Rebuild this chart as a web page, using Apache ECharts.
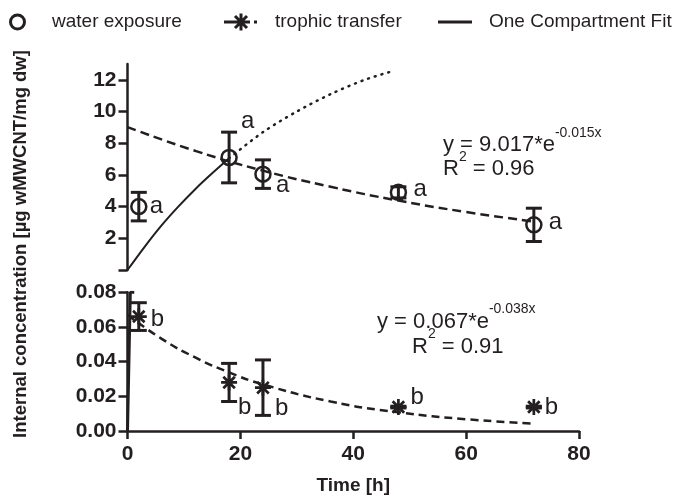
<!DOCTYPE html>
<html>
<head>
<meta charset="utf-8">
<script src="https://cdn.jsdelivr.net/npm/echarts@6.0.0/dist/echarts.min.js"></script>
<style>
  html, body { margin: 0; padding: 0; background: #fff; }
  #chart { width: 677px; height: 496px; }
</style>
</head>
<body>
<div id="chart"></div>
<script>
var myChart = echarts.init(document.getElementById('chart'));

// measured points (mean and error)
var waterTime = [2, 18, 24, 48, 72];
var waterMean = [4.0, 7.1, 6.05, 4.9, 2.85];
var waterErr = [0.9, 1.6, 0.9, 0.35, 1.05];
var waterLetters = ['a', 'a', 'a', 'a', 'a'];

var trophicTime = [2, 18, 24, 48, 72];
var trophicMean = [0.066, 0.028, 0.025, 0.0138, 0.0138];
var trophicErr = [0.008, 0.011, 0.016, 0.0005, 0.0005];
var trophicLetters = ['b', 'b', 'b', 'b', 'b'];

// fitted curves
var uptakeTime = [0, 3, 6, 9, 12, 15, 18];
var uptakeConc = [0, 1.45, 2.8, 4.0, 5.1, 6.1, 7.05];
var uptakeExtTime = [18, 24, 30, 36, 42, 47];
var uptakeExtConc = [7.05, 8.7, 10.0, 11.1, 12.0, 12.55];
var waterFitTime = [0, 12, 24, 36, 48, 60, 72];
var waterFitConc = [9.02, 7.52, 6.27, 5.25, 4.38, 3.66, 3.06];

var trophicUptakeTime = [0, 0.5, 1.2];
var trophicUptakeConc = [0, 0.08, 0.08];
var trophicFitTime = [0, 6, 12, 18, 24, 36, 48, 60, 72];
var trophicFitConc = [0.067, 0.0533, 0.0424, 0.0338, 0.0269, 0.0170, 0.0108, 0.0068, 0.0043];

// axis ticks
var timeTicks = [0, 20, 40, 60, 80];
var upperTicks = [2, 4, 6, 8, 10, 12];
var lowerTicks = [0, 0.02, 0.04, 0.06, 0.08];

// label placement next to each point (layout only)
var waterLabelOffset = [[11, 0], [12, -36], [13, 11], [15, -3], [15, -2]];
var trophicLabelOffset = [[12, 3], [9, 25], [12, 21], [12, -10], [11, 0]];

var ink = '#231f20';
var font = 'Liberation Sans, Arial, sans-serif';
var starPath = 'path://M0 8.3H20V11.7H0Z M8.3 0H11.7V20H8.3Z M1.6 4.0L4.0 1.6L18.4 16.0L16.0 18.4Z M16.0 1.6L18.4 4.0L4.0 18.4L1.6 16.0Z';
var starLegendPath = 'path://M0 7H26V10H0Z M15.5 0H18.5V17H15.5Z M9.94 3.56L12.06 1.44L24.06 13.44L21.94 15.56Z M21.94 1.44L24.06 3.56L12.06 15.56L9.94 13.44Z M30 7H33V10H30Z';

function pairs(xs, ys) {
    return xs.map(function (x, i) { return [x, ys[i]]; });
}

function errRows(xs, m, e) {
    return xs.map(function (x, i) { return [x, m[i] - e[i], m[i] + e[i]]; });
}

function pointItems(xs, ys, offsets) {
    return xs.map(function (x, i) {
        return { value: [x, ys[i]], label: { offset: offsets[i] } };
    });
}

function errorBar(half) {
    return function (params, api) {
        var t = api.value(0);
        var lo = api.coord([t, api.value(1)]);
        var hi = api.coord([t, api.value(2)]);
        var st = { stroke: ink, lineWidth: 3 };
        return {
            type: 'group',
            children: [
                { type: 'line', shape: { x1: lo[0], y1: lo[1], x2: hi[0], y2: hi[1] }, style: st },
                { type: 'line', shape: { x1: lo[0] - half, y1: lo[1], x2: lo[0] + half, y2: lo[1] }, style: st },
                { type: 'line', shape: { x1: hi[0] - half, y1: hi[1], x2: hi[0] + half, y2: hi[1] }, style: st }
            ]
        };
    };
}

var axisLine = { show: true, lineStyle: { color: ink, width: 2.5 } };
var tickLabel = { color: ink, fontSize: 21, fontWeight: 'bold', fontFamily: font };

function letterLabel(letters) {
    return {
        show: true,
        position: 'inside',
        align: 'left',
        verticalAlign: 'middle',
        color: ink,
        fontSize: 24,
        fontFamily: font,
        formatter: function (p) { return letters[p.dataIndex]; }
    };
}

var eqRich = {
    m: { fontSize: 22, lineHeight: 30, fontFamily: font, fill: ink, verticalAlign: 'bottom' },
    s: { fontSize: 14, lineHeight: 14, fontFamily: font, fill: ink, verticalAlign: 'top' },
    q: { fontSize: 14, lineHeight: 20, fontFamily: font, fill: ink, verticalAlign: 'top' }
};

myChart.setOption({
    animation: false,
    backgroundColor: '#fff',
    grid: [
        { left: 127.5, width: 451.5, top: 64, height: 206 },
        { left: 127.5, width: 451.5, top: 292.3, height: 139.4 }
    ],
    legend: [
        {
            left: 9, top: 12, padding: 0, selectedMode: false,
            itemWidth: 59, itemHeight: 14,
            textStyle: { color: ink, fontSize: 19, fontFamily: font, lineHeight: 20 },
            data: [{ name: 'water exposure', icon: 'circle',
                itemStyle: { color: 'rgba(0,0,0,0)', borderColor: ink, borderWidth: 3 } }]
        },
        {
            left: 224, top: 12, padding: 0, selectedMode: false,
            itemWidth: 33, itemHeight: 17,
            textStyle: { color: ink, fontSize: 19, fontFamily: font, lineHeight: 20, padding: [0, 0, 0, 13] },
            data: [{ name: 'trophic transfer', icon: starLegendPath, itemStyle: { color: ink, borderWidth: 0 } }]
        },
        {
            left: 438, top: 12, padding: 0, selectedMode: false,
            itemWidth: 34, itemHeight: 3,
            textStyle: { color: ink, fontSize: 19, fontFamily: font, lineHeight: 20, padding: [0, 0, 0, 12] },
            data: [{ name: 'One Compartment Fit', icon: 'path://M0 0H34V3H0Z', itemStyle: { color: ink, borderWidth: 0 } }]
        }
    ],
    xAxis: [
        { gridIndex: 0, type: 'value', min: 0, max: 80, show: false },
        {
            gridIndex: 1, type: 'value', min: 0, max: 80, interval: 20,
            axisLine: axisLine,
            axisTick: { show: true, length: 8, lineStyle: { color: ink, width: 2.5 } },
            axisLabel: Object.assign({ margin: 13 }, tickLabel),
            splitLine: { show: false },
            name: 'Time [h]', nameLocation: 'middle', nameGap: 45,
            nameTextStyle: { color: ink, fontSize: 19, fontWeight: 'bold', fontFamily: font }
        }
    ],
    yAxis: [
        {
            gridIndex: 0, type: 'value', min: 0, max: 13, interval: 2,
            axisLine: axisLine,
            axisTick: { show: true, length: 9, lineStyle: { color: ink, width: 2.5 }, customValues: [0].concat(upperTicks) },
            axisLabel: Object.assign({ margin: 11, customValues: upperTicks,
                formatter: function (v) { return (v === 0 || v === 13) ? '' : v; } }, tickLabel),
            splitLine: { show: false }
        },
        {
            gridIndex: 1, type: 'value', min: 0, max: 0.08, interval: 0.02,
            axisLine: axisLine,
            axisTick: { show: true, length: 9, lineStyle: { color: ink, width: 2.5 } },
            axisLabel: Object.assign({ margin: 11, formatter: function (v) { return v.toFixed(2); } }, tickLabel),
            splitLine: { show: false }
        }
    ],
    graphic: [
        {
            type: 'text', x: 21, y: 244, rotation: Math.PI / 2,
            style: { text: 'Internal concentration [µg wMWCNT/mg dw]', fill: ink, fontSize: 18.5, fontWeight: 'bold',
                fontFamily: font, align: 'center', verticalAlign: 'middle' }
        },
        { type: 'text', left: 443, top: 126, style: { text: '{m|y = 9.017*e}{s|-0.015x}', rich: eqRich } },
        { type: 'text', left: 443, top: 150, style: { text: '{m|R}{q|2}{m| = 0.96}', rich: eqRich } },
        { type: 'text', left: 377, top: 302.5, style: { text: '{m|y = 0.067*e}{s|-0.038x}', rich: eqRich } },
        { type: 'text', left: 412, top: 327.5, style: { text: '{m|R}{q|2}{m| = 0.91}', rich: eqRich } }
    ],
    series: [
        {
            name: 'water fit', type: 'line', xAxisIndex: 0, yAxisIndex: 0,
            data: pairs(waterFitTime, waterFitConc), smooth: true, showSymbol: false, silent: true,
            lineStyle: { color: ink, width: 2.5, type: [9, 5] }
        },
        {
            name: 'One Compartment Fit', type: 'line', xAxisIndex: 0, yAxisIndex: 0,
            data: pairs(uptakeTime, uptakeConc), smooth: 0.3, showSymbol: false, silent: true,
            itemStyle: { color: ink },
            lineStyle: { color: ink, width: 2 }
        },
        {
            name: 'uptake extrapolated', type: 'line', xAxisIndex: 0, yAxisIndex: 0,
            data: pairs(uptakeExtTime, uptakeExtConc), smooth: 0.3, showSymbol: false, silent: true,
            lineStyle: { color: ink, width: 2.5, type: [1, 6], cap: 'round' }
        },
        {
            name: 'water error', type: 'custom', xAxisIndex: 0, yAxisIndex: 0,
            data: errRows(waterTime, waterMean, waterErr), renderItem: errorBar(8), silent: true,
            encode: { x: 0, y: [1, 2] }
        },
        {
            name: 'water exposure', type: 'scatter', xAxisIndex: 0, yAxisIndex: 0,
            data: pointItems(waterTime, waterMean, waterLabelOffset),
            symbol: 'circle', symbolSize: 15,
            itemStyle: { color: 'rgba(0,0,0,0)', borderColor: ink, borderWidth: 2.5, opacity: 1 },
            label: letterLabel(waterLetters)
        },
        {
            name: 'trophic fit', type: 'line', xAxisIndex: 1, yAxisIndex: 1,
            data: pairs(trophicFitTime, trophicFitConc), smooth: true, showSymbol: false, silent: true,
            lineStyle: { color: ink, width: 2.5, type: [8, 5] }
        },
        {
            name: 'trophic uptake', type: 'line', xAxisIndex: 1, yAxisIndex: 1,
            data: pairs(trophicUptakeTime, trophicUptakeConc), showSymbol: false, silent: true,
            lineStyle: { color: ink, width: 3 }
        },
        {
            name: 'trophic error', type: 'custom', xAxisIndex: 1, yAxisIndex: 1,
            data: errRows(trophicTime, trophicMean, trophicErr), renderItem: errorBar(8), silent: true,
            encode: { x: 0, y: [1, 2] }
        },
        {
            name: 'trophic transfer', type: 'scatter', xAxisIndex: 1, yAxisIndex: 1,
            data: pointItems(trophicTime, trophicMean, trophicLabelOffset),
            symbol: starPath, symbolSize: 16,
            itemStyle: { color: ink, opacity: 1 },
            label: letterLabel(trophicLetters)
        }
    ]
});
</script>
</body>
</html>
